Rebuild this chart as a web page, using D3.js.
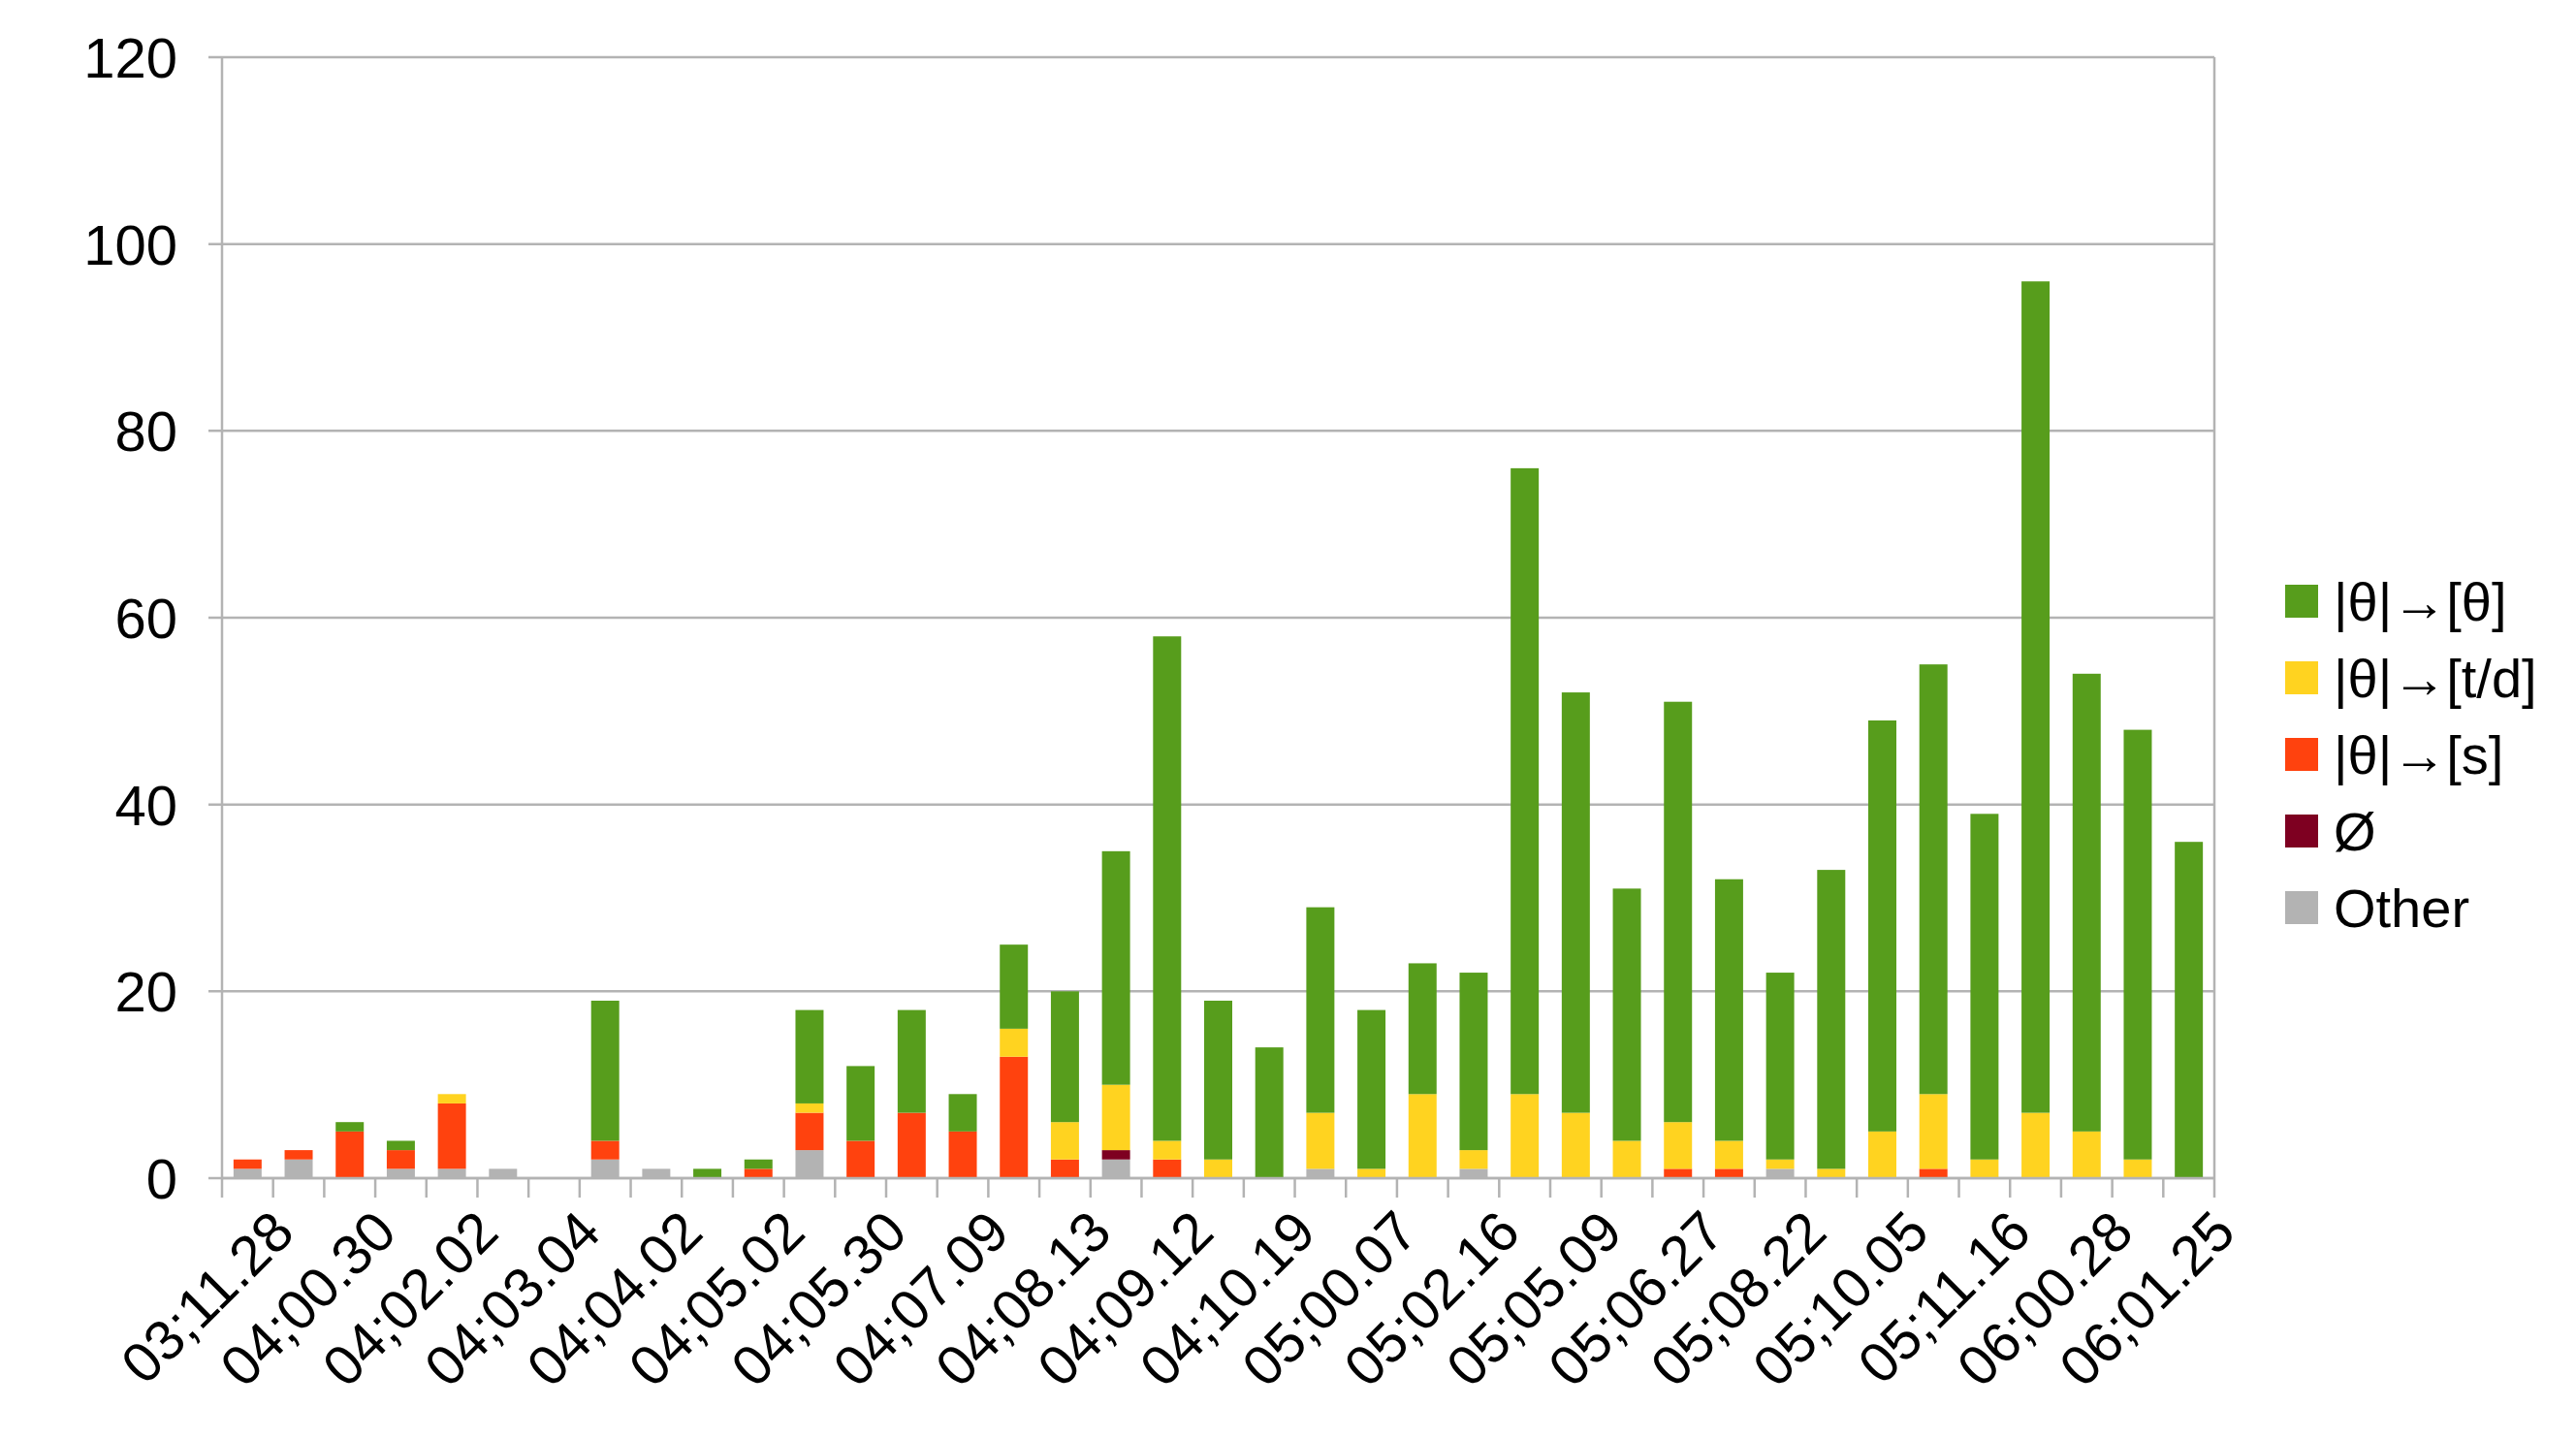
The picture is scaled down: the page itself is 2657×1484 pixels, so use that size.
<!DOCTYPE html>
<html><head><meta charset="utf-8">
<script src="https://cdn.jsdelivr.net/npm/d3@7"></script>
<style>body{margin:0;background:#fff;font-family:"Liberation Sans",Arial,sans-serif}</style>
</head><body>
<svg id="c" width="2657" height="1484"></svg>
<script>
const labels = ["03;11.28","04;00.30","04;02.02","04;03.04","04;04.02","04;05.02","04;05.30","04;07.09","04;08.13","04;09.12",
  "04;10.19","05;00.07","05;02.16","05;05.09","05;06.27","05;08.22","05;10.05","05;11.16","06;00.28","06;01.25"];
const categories = d3.range(39).map(i => "c" + i);
const other = [1,2,0,1,1,1,0,2,1,0,0,3,0,0,0,0,0,2,0,0,0,1,0,0,1,0,0,0,0,0,1,0,0,0,0,0,0,0,0];
const nullV = [0,0,0,0,0,0,0,0,0,0,0,0,0,0,0,0,0,1,0,0,0,0,0,0,0,0,0,0,0,0,0,0,0,0,0,0,0,0,0];
const toS   = [1,1,5,2,7,0,0,2,0,0,1,4,4,7,5,13,2,0,2,0,0,0,0,0,0,0,0,0,1,1,0,0,0,1,0,0,0,0,0];
const toTD  = [0,0,0,0,1,0,0,0,0,0,0,1,0,0,0,3,4,7,2,2,0,6,1,9,2,9,7,4,5,3,1,1,5,8,2,7,5,2,0];
const toTh  = [0,0,1,1,0,0,0,15,0,1,1,10,8,11,4,9,14,25,54,17,14,22,17,14,19,67,45,27,45,28,20,32,44,46,37,89,49,46,36];
const seriesNames = ["|θ|→[θ]","|θ|→[t/d]","|θ|→[s]","Ø","Other"];
const colors = ["#579d1c","#ffd320","#ff420e","#7e0021","#b3b3b3"];
const yTicks = [0,20,40,60,80,100,120];

const rows = categories.map((c,i) => ({cat:c, Other:other[i], "Ø":nullV[i], "|θ|→[s]":toS[i], "|θ|→[t/d]":toTD[i], "|θ|→[θ]":toTh[i]}));
const stackKeys = ["Other","Ø","|θ|→[s]","|θ|→[t/d]","|θ|→[θ]"];
const stacked = d3.stack().keys(stackKeys)(rows);
const color = d3.scaleOrdinal().domain(seriesNames).range(colors);

const m = {left:229, right:2284, top:59, bottom:1215};
const svg = d3.select("#c");
const x = d3.scaleBand().domain(categories).range([m.left, m.right]).paddingInner(0.45).paddingOuter(0.225);
const y = d3.scaleLinear().domain([0,120]).range([m.bottom, m.top]);

svg.append("g").selectAll("line").data(yTicks).join("line")
  .attr("x1", m.left - 14).attr("x2", m.right).attr("y1", d => y(d)).attr("y2", d => y(d))
  .attr("stroke", "#b3b3b3").attr("stroke-width", 2.5);
svg.append("line").attr("x1", m.left).attr("x2", m.left).attr("y1", m.top).attr("y2", m.bottom).attr("stroke","#b3b3b3").attr("stroke-width",2.5);
svg.append("line").attr("x1", m.right).attr("x2", m.right).attr("y1", m.top).attr("y2", m.bottom).attr("stroke","#b3b3b3").attr("stroke-width",2.5);

svg.append("g").selectAll("text").data(yTicks).join("text")
  .attr("x", m.left - 46).attr("y", d => y(d)).attr("dy", "0.36em").attr("text-anchor","end")
  .attr("font-size", 58).attr("fill","#000").text(d => d);

svg.append("g").selectAll("g").data(stacked).join("g").attr("fill", d => color(d.key))
  .selectAll("rect").data(d => d).join("rect")
  .attr("x", d => x(d.data.cat)).attr("width", x.bandwidth())
  .attr("y", d => y(d[1])).attr("height", d => y(d[0]) - y(d[1]));

// x axis boundary ticks
const step = x.step();
svg.append("g").selectAll("line").data(d3.range(40)).join("line")
  .attr("x1", i => m.left + i*step).attr("x2", i => m.left + i*step)
  .attr("y1", m.bottom).attr("y2", m.bottom + 20).attr("stroke","#b3b3b3").attr("stroke-width",2.5);
svg.append("line").attr("x1", m.left).attr("x2", m.right).attr("y1", m.bottom).attr("y2", m.bottom).attr("stroke","#b3b3b3").attr("stroke-width",2.5);

svg.append("g").selectAll("text").data(labels).join("text")
  .attr("transform", (d,i) => `translate(${x(categories[i*2]) + x.bandwidth()/2 + 22},${m.bottom + 30}) rotate(-45)`)
  .attr("text-anchor","end").attr("dy","0.7em").attr("font-size", 58).text(d => d);

const lg = svg.append("g").attr("transform", "translate(2357,620)");
const item = lg.selectAll("g").data(seriesNames).join("g").attr("transform", (d,i) => `translate(0,${i*79})`);
item.append("rect").attr("x",0).attr("y",-17).attr("width",34).attr("height",34).attr("fill", d => color(d));
item.append("text").attr("x", 50).attr("dy","0.36em").attr("font-size", 56).text(d => d);
</script>
</body></html>
